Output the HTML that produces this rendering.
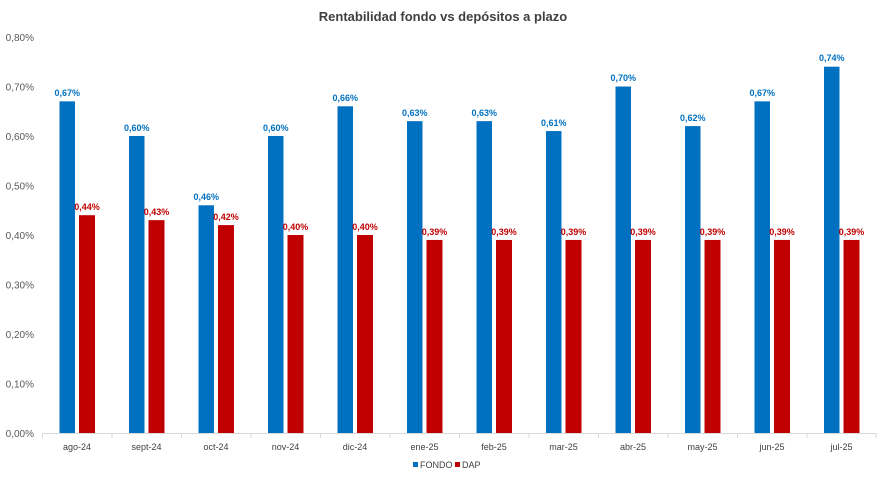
<!DOCTYPE html>
<html><head><meta charset="utf-8"><style>
body{margin:0;background:#fff}
svg{display:block;font-family:"Liberation Sans",sans-serif}
.yl{font-size:10px;fill:#595959;text-anchor:end}
.xl{font-size:9px;fill:#404040;text-anchor:middle}
.lb{font-size:9px;font-weight:bold;fill:#0070C0;text-anchor:middle}
.lr{font-size:9px;font-weight:bold;fill:#C00000;text-anchor:middle}
</style></head><body>
<svg width="887" height="480" viewBox="0 0 887 480">
<text x="443" y="21" text-anchor="middle" font-size="13" font-weight="bold" fill="#404040">Rentabilidad fondo vs depósitos a plazo</text>
<g class="yl">
<text x="34" y="41">0,80%</text><text x="34" y="90.5">0,70%</text><text x="34" y="140">0,60%</text><text x="34" y="189.5">0,50%</text><text x="34" y="239">0,40%</text><text x="34" y="288.5">0,30%</text><text x="34" y="338">0,20%</text><text x="34" y="387.5">0,10%</text><text x="34" y="437">0,00%</text>
</g>
<line x1="42" y1="433.5" x2="876" y2="433.5" stroke="#d9d9d9"/>
<g stroke="#d9d9d9">
<line x1="42.5" y1="433" x2="42.5" y2="438"/><line x1="112" y1="433" x2="112" y2="438"/><line x1="181.5" y1="433" x2="181.5" y2="438"/><line x1="251" y1="433" x2="251" y2="438"/><line x1="320.5" y1="433" x2="320.5" y2="438"/><line x1="390" y1="433" x2="390" y2="438"/><line x1="459.5" y1="433" x2="459.5" y2="438"/><line x1="529" y1="433" x2="529" y2="438"/><line x1="598.5" y1="433" x2="598.5" y2="438"/><line x1="668" y1="433" x2="668" y2="438"/><line x1="737.5" y1="433" x2="737.5" y2="438"/><line x1="807" y1="433" x2="807" y2="438"/><line x1="876" y1="433" x2="876" y2="438"/>
</g>
<g fill="#0070C0">
<rect x="59.5" y="101.35" width="15.5" height="331.65"/>
<rect x="129" y="136" width="15.5" height="297"/>
<rect x="198.5" y="205.3" width="15.5" height="227.7"/>
<rect x="268" y="136" width="15.5" height="297"/>
<rect x="337.5" y="106.3" width="15.5" height="326.7"/>
<rect x="407" y="121.15" width="15.5" height="311.85"/>
<rect x="476.5" y="121.15" width="15.5" height="311.85"/>
<rect x="546" y="131.05" width="15.5" height="301.95"/>
<rect x="615.5" y="86.5" width="15.5" height="346.5"/>
<rect x="685" y="126.1" width="15.5" height="306.9"/>
<rect x="754.5" y="101.35" width="15.5" height="331.65"/>
<rect x="824" y="66.7" width="15.5" height="366.3"/>
</g>
<g fill="#C00000">
<rect x="79" y="215.2" width="16" height="217.8"/>
<rect x="148.5" y="220.15" width="16" height="212.85"/>
<rect x="218" y="225.1" width="16" height="207.9"/>
<rect x="287.5" y="235" width="16" height="198"/>
<rect x="357" y="235" width="16" height="198"/>
<rect x="426.5" y="239.95" width="16" height="193.05"/>
<rect x="496" y="239.95" width="16" height="193.05"/>
<rect x="565.5" y="239.95" width="16" height="193.05"/>
<rect x="635" y="239.95" width="16" height="193.05"/>
<rect x="704.5" y="239.95" width="16" height="193.05"/>
<rect x="774" y="239.95" width="16" height="193.05"/>
<rect x="843.5" y="239.95" width="16" height="193.05"/>
</g>
<g class="lb">
<text x="67.25" y="96">0,67%</text><text x="136.75" y="131">0,60%</text><text x="206.25" y="200">0,46%</text><text x="275.75" y="131">0,60%</text><text x="345.25" y="101">0,66%</text><text x="414.75" y="116">0,63%</text><text x="484.25" y="116">0,63%</text><text x="553.75" y="126">0,61%</text><text x="623.25" y="81">0,70%</text><text x="692.75" y="121">0,62%</text><text x="762.25" y="96">0,67%</text><text x="831.75" y="61">0,74%</text>
</g>
<g class="lr">
<text x="87" y="210">0,44%</text><text x="156.5" y="215">0,43%</text><text x="226" y="220">0,42%</text><text x="295.5" y="230">0,40%</text><text x="365" y="230">0,40%</text><text x="434.5" y="235">0,39%</text><text x="504" y="235">0,39%</text><text x="573.5" y="235">0,39%</text><text x="643" y="235">0,39%</text><text x="712.5" y="235">0,39%</text><text x="782" y="235">0,39%</text><text x="851.5" y="235">0,39%</text>
</g>
<g class="xl">
<text x="77" y="450">ago-24</text><text x="146.5" y="450">sept-24</text><text x="216" y="450">oct-24</text><text x="285.5" y="450">nov-24</text><text x="355" y="450">dic-24</text><text x="424.5" y="450">ene-25</text><text x="494" y="450">feb-25</text><text x="563.5" y="450">mar-25</text><text x="633" y="450">abr-25</text><text x="702.5" y="450">may-25</text><text x="772" y="450">jun-25</text><text x="841.5" y="450">jul-25</text>
</g>
<rect x="413" y="462" width="5" height="5" fill="#0070C0"/>
<text x="420" y="468" font-size="9" fill="#404040">FONDO</text>
<rect x="455" y="462" width="5" height="5" fill="#C00000"/>
<text x="462" y="468" font-size="9" fill="#404040">DAP</text>
</svg>
</body></html>
